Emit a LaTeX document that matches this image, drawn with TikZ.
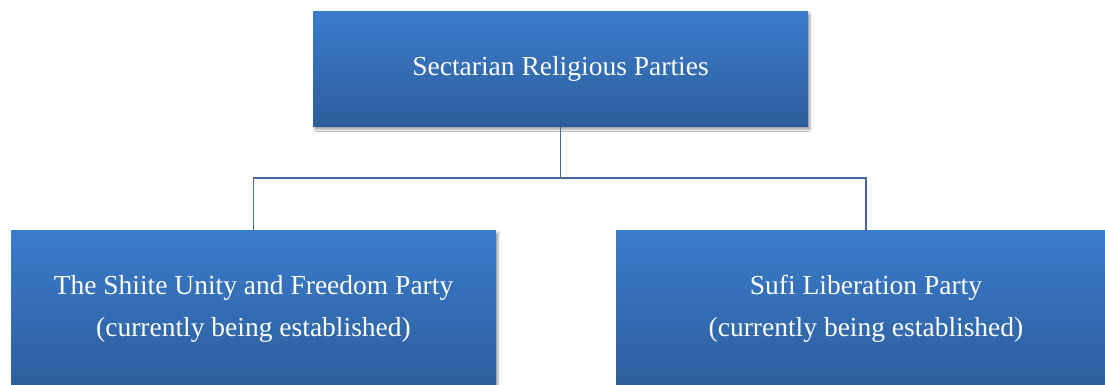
\documentclass[tikz,border=0pt]{standalone}
\usepackage{fontspec}
\setmainfont{Liberation Serif}
\usetikzlibrary{positioning,shadows.blur}
\definecolor{BoxTop}{HTML}{3A7CCC}
\definecolor{BoxBottom}{HTML}{2D5E9B}
\definecolor{Link}{HTML}{45699A}
\tikzset{
  party/.style={top color=BoxTop,bottom color=BoxBottom,draw=none,align=center,text=white,
    font=\fontsize{27.5}{42}\selectfont,inner sep=0pt,
    blur shadow={shadow xshift=2pt,shadow yshift=-3pt,shadow blur steps=6,shadow opacity=35}},
  link/.style={draw=Link,line width=1.8pt},
}
\begin{document}
\begin{tikzpicture}[x=1pt,y=1pt]
  \clip (0,0) rectangle (1105,-384);
  \fill[white] (0,0) rectangle (1105,-384);
  \node[party,minimum width=495pt,minimum height=115pt] (root) at (560.5,-69) {Sectarian Religious Parties};
  \node[party,minimum width=485pt,minimum height=158pt] (shiite) at (253.5,-309) {The Shiite Unity and Freedom Party\\(currently being established)};
  \node[party,minimum width=500pt,minimum height=158pt] (sufi) at (866,-309) {Sufi Liberation Party\\(currently being established)};
  \coordinate (fork) at (560.5,-178);

  \draw[link] (root.south) -- (fork);
  \draw[link] (fork) -| (shiite.north);
  \draw[link] (fork) -| (sufi.north);
\end{tikzpicture}
\end{document}
